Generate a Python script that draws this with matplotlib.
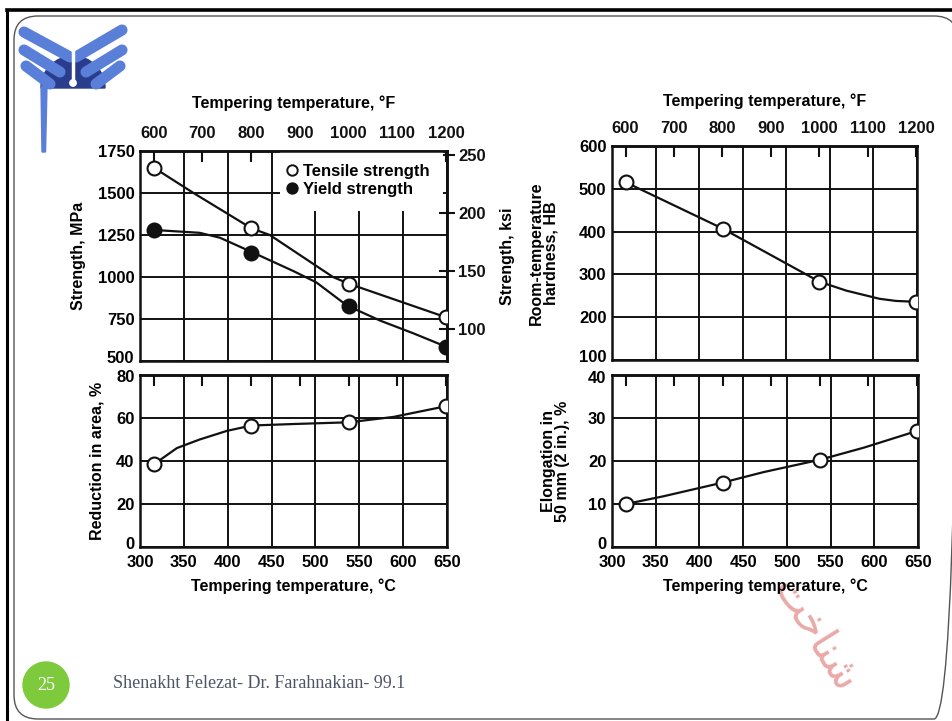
import matplotlib
matplotlib.use("Agg")
import matplotlib.pyplot as plt
from matplotlib.patches import FancyBboxPatch, Wedge, Circle, Polygon, Rectangle
from matplotlib.transforms import ScaledTranslation

plt.rcParams['font.family'] = ['Liberation Sans', 'DejaVu Sans']
plt.rcParams['font.weight'] = 'bold'
plt.rcParams['axes.labelweight'] = 'bold'

# marker temperatures (600, 800, 1000, 1200 F in C)
temp_c = [316, 427, 538, 649]

tensile_mpa = [1650, 1290, 960, 760]
yield_mpa = [1280, 1145, 830, 585]
hardness_hb = [515, 407, 283, 236]
red_area = [38.5, 56.5, 58, 65.5]
elong = [10, 15, 20.3, 27]

# traced curve points
tensile_curve_c = [316, 361, 427, 448, 520, 538, 649]
tensile_curve_mpa = [1650, 1500, 1290, 1250, 1000, 960, 760]
yield_curve_c = [316, 368, 391, 429, 475, 501, 536, 574, 612, 649]
yield_curve_mpa = [1280, 1263, 1234, 1145, 1035, 968, 830, 740, 664, 585]
hardness_curve_c = [316, 427, 538, 569, 607, 626, 649]
hardness_curve_hb = [515, 407, 283, 262, 243, 238, 236]
ra_curve_c = [316, 342, 368, 399, 427, 475, 538, 589, 649]
ra_curve = [38.5, 46, 50, 54, 56.5, 57.2, 58, 60.5, 65.5]
el_curve_c = [316, 359, 427, 473, 538, 588, 649]
el_curve = [10, 11.8, 15, 17.4, 20.3, 23.1, 27]

c_ticks = [300, 350, 400, 450, 500, 550, 600, 650]
f_ticks = [600, 700, 800, 900, 1000, 1100, 1200]
ksi_ticks = [100, 150, 200, 250]

W, H = 952, 721
fig = plt.figure(figsize=(W / 100, H / 100), dpi=100)


def px_axes(l, t, r, b):
    return fig.add_axes([l / W, 1 - b / H, (r - l) / W, (b - t) / H])


def c2f(c):
    return c * 9 / 5 + 32


def f2c(f):
    return (f - 32) * 5 / 9


def nudge(label, dy_px):
    label.set_transform(label.get_transform()
                        + ScaledTranslation(0, dy_px / 100, fig.dpi_scale_trans))


INK = '#111111'
TICK_FS = 12
LAB_FS = 11.5


def style_panel(ax, ylim, yticks, top_labels, bottom_labels):
    ax.set_xlim(300, 650)
    ax.set_ylim(*ylim)
    ax.set_xticks(c_ticks)
    ax.set_yticks(yticks)
    ax.grid(True, color=INK, lw=1.4)
    ax.set_axisbelow(True)
    ax.tick_params(length=0, labelsize=TICK_FS, labelbottom=bottom_labels)
    ax.tick_params(axis='y', pad=4)
    ax.tick_params(axis='x', pad=6)
    for s in ax.spines.values():
        s.set_linewidth(1.8)
        s.set_color(INK)
    sec = ax.secondary_xaxis('top', functions=(c2f, f2c))
    sec.set_xticks(f_ticks)
    sec.tick_params(direction='in', length=8, width=1.5, labelsize=TICK_FS,
                    pad=7, labeltop=top_labels, colors=INK)
    sec.spines['top'].set_linewidth(1.8)
    return sec


def draw(ax, cx, cy, mx, my, filled=False):
    ax.plot(cx, cy, color=INK, lw=1.6, zorder=3)
    ax.plot(mx, my, 'o', ms=10, mec=INK, mew=1.5,
            mfc=INK if filled else 'white', zorder=4)


# top left: strength
ax1 = px_axes(140, 151, 447, 361)
sec1 = style_panel(ax1, (500, 1750), [500, 750, 1000, 1250, 1500, 1750], True, False)
sec1.set_xlabel('Tempering temperature, °F', fontsize=LAB_FS, labelpad=13)
ax1.set_ylabel('Strength, MPa', fontsize=LAB_FS, labelpad=8)
# white area behind the legend hides the grid there
ax1.add_patch(Rectangle((460, 1390), 186, 360, facecolor='white',
                        edgecolor='none', zorder=1))
draw(ax1, tensile_curve_c, tensile_curve_mpa, temp_c, tensile_mpa)
draw(ax1, yield_curve_c, yield_curve_mpa, temp_c, yield_mpa, filled=True)
h1, = ax1.plot([], [], 'o', ms=7.5, mec=INK, mfc='white', mew=1.4)
h2, = ax1.plot([], [], 'o', ms=7.5, mec=INK, mfc=INK, mew=1.4)
ax1.legend([h1, h2], ['Tensile strength', 'Yield strength'], loc='upper left',
           bbox_to_anchor=(0.468, 0.955), frameon=False, fontsize=12,
           handlelength=0.6, handletextpad=0.35, labelspacing=0.2,
           borderaxespad=0, borderpad=0.2)
ksi = ax1.secondary_yaxis('right', functions=(lambda m: m / 6.895, lambda k: k * 6.895))
ksi.set_yticks(ksi_ticks)
ksi.tick_params(direction='inout', length=12, width=1.5, labelsize=TICK_FS, pad=2, colors=INK)
ksi.spines['right'].set_linewidth(1.8)
ksi.set_ylabel('Strength, ksi', fontsize=LAB_FS, labelpad=10)

# bottom left: reduction in area
ax2 = px_axes(140, 375, 447, 547)
style_panel(ax2, (0, 80), [0, 20, 40, 60, 80], False, True)
ax2.set_xlabel('Tempering temperature, °C', fontsize=LAB_FS, labelpad=6)
ax2.set_ylabel('Reduction in area, %', fontsize=LAB_FS, labelpad=8)
draw(ax2, ra_curve_c, ra_curve, temp_c, red_area)

# top right: hardness
ax3 = px_axes(612, 146, 917, 360)
sec3 = style_panel(ax3, (100, 600), [100, 200, 300, 400, 500, 600], True, False)
sec3.set_xlabel('Tempering temperature, °F', fontsize=LAB_FS, labelpad=11)
ax3.set_ylabel('Room-temperature\nhardness, HB', fontsize=LAB_FS, labelpad=15,
               linespacing=0.95)
draw(ax3, hardness_curve_c, hardness_curve_hb, temp_c, hardness_hb)

# bottom right: elongation
ax4 = px_axes(612, 375, 918, 547)
style_panel(ax4, (0, 40), [0, 10, 20, 30, 40], False, True)
ax4.set_xlabel('Tempering temperature, °C', fontsize=LAB_FS, labelpad=6)
ax4.set_ylabel('Elongation in\n50 mm (2 in.), %', fontsize=LAB_FS, labelpad=13,
               linespacing=0.95)
draw(ax4, el_curve_c, el_curve, temp_c, elong)

# corner labels sit slightly off their ticks, as in the scan
for ax in (ax1, ax2, ax3, ax4):
    nudge(ax.get_yticklabels()[0], 4)
nudge(ax2.get_yticklabels()[-1], -1)
nudge(ax4.get_yticklabels()[-1], -2)

# slide decorations
deco = fig.add_axes([0, 0, 1, 1], zorder=-1)
deco.set_xlim(0, W)
deco.set_ylim(H, 0)
deco.axis('off')
deco.plot([7, 7], [10, H], color='black', lw=2.2)
deco.plot([7, W], [10, 10], color='black', lw=2.6)
deco.add_patch(FancyBboxPatch((14, 16), 944, 703,
                              boxstyle='round,pad=0,rounding_size=24',
                              ec='#555555', fc='none', lw=1.0))

# logo
blue = '#5a7fd8'
navy = '#2a3c8c'
for x1, y1, x2, y2 in [(24, 32, 70, 57), (24, 50, 60, 72), (26, 66, 50, 84),
                       (122, 30, 76, 57), (122, 50, 86, 72), (120, 66, 96, 84)]:
    deco.plot([x1, x2], [y1, y2], color=blue, lw=8, solid_capstyle='round')
deco.add_patch(Wedge((73, 88), 32, 180, 360, color=navy))
deco.plot([73, 73], [50, 82], color='white', lw=2.5)
deco.add_patch(Circle((73, 83), 3.2, color='white'))
deco.add_patch(Polygon([(41, 86), (47, 86), (45.5, 152), (42, 152)], color=blue))

# page number and footer
deco.add_patch(Circle((46, 685), 23, color='#7dcb3c'))
deco.text(46, 686, '25', color='white', fontsize=13, family='Liberation Serif',
          fontweight='normal', ha='center', va='center')
deco.text(113, 683, 'Shenakht Felezat- Dr. Farahnakian- 99.1', color='#4d5566',
          fontsize=13, family='Liberation Serif', fontweight='normal',
          ha='left', va='center')

# watermark
deco.text(815, 635, '\uFE96\uFEA7\uFE8E\uFEE8\uFEB7', rotation=-58, color='#e8a0a0',
          fontsize=30, family='DejaVu Sans', fontweight='normal',
          ha='center', va='center', alpha=0.9)

fig.savefig('out.png', dpi=100, facecolor='white')
